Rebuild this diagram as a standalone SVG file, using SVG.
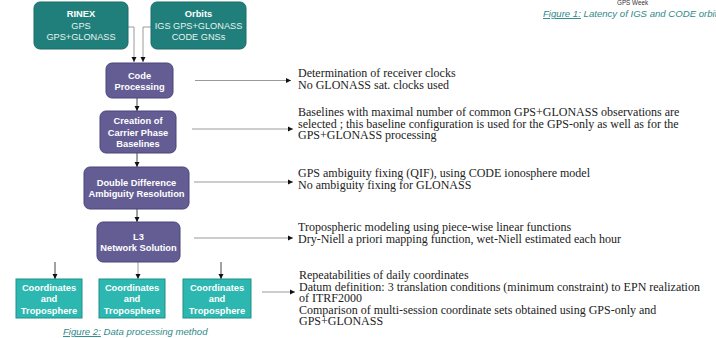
<svg xmlns="http://www.w3.org/2000/svg" width="716" height="338" viewBox="0 0 716 338">
<defs>
<marker id="ah" viewBox="0 0 10 10" refX="10" refY="5" markerWidth="5.5" markerHeight="5.5" orient="auto" markerUnits="userSpaceOnUse">
<path d="M0,0 L10,5 L0,10 z" fill="#111"/>
</marker>
<style>
.teal{fill:#217f7b;stroke:#1a6d69;stroke-width:1}
.proc{fill:#645d94;stroke:#4b457c;stroke-width:1}
.coord{fill:#2cb8b0;stroke:#1f8f89;stroke-width:1}
.bt{font-family:"Liberation Sans",Arial,sans-serif;font-weight:bold;font-size:9.3px;fill:#fff;text-anchor:middle}
.st{font-family:"Liberation Sans",Arial,sans-serif;font-size:9.2px;fill:#e6f2f1;text-anchor:middle}
.desc{font-family:"Liberation Serif","Times New Roman",serif;font-size:12px;fill:#222}
.cap{font-family:"Liberation Sans",Arial,sans-serif;font-style:italic;font-size:9.6px;fill:#2f8a89}
.ln{fill:none;stroke:#9a9a9a;stroke-width:1}
.lk{fill:none;stroke:#444;stroke-width:1}
</style>
</defs>
<rect width="716" height="338" fill="#fff"/>

<g id="top-right">
<text x="617" y="5" font-family="Liberation Sans,Arial,sans-serif" font-size="6.3" fill="#333">GPS Week</text>
<text x="543" y="17" class="cap" font-size="10"><tspan text-decoration="underline">Figure 1:</tspan> Latency of IGS and CODE orbits</text>
</g>

<g id="connectors">
<polyline class="ln" points="128,27 134,27 134,62" marker-end="url(#ah)"/>
<polyline class="ln" points="151,27 143,27 143,62" marker-end="url(#ah)"/>
<line class="lk" x1="137" y1="98" x2="137" y2="111" marker-end="url(#ah)"/>
<line class="lk" x1="137" y1="153" x2="137" y2="167" marker-end="url(#ah)"/>
<line class="lk" x1="137" y1="209" x2="137" y2="222" marker-end="url(#ah)"/>
<line class="ln" x1="138" y1="262" x2="138" y2="279" marker-end="url(#ah)"/>
<line class="lk" x1="55" y1="262" x2="55" y2="279" marker-end="url(#ah)"/>
<line class="lk" x1="221" y1="262" x2="221" y2="279" marker-end="url(#ah)"/>
<line class="ln" x1="195" y1="80.5" x2="291" y2="80.5" marker-end="url(#ah)"/>
<line class="ln" x1="192" y1="129" x2="293" y2="129" marker-end="url(#ah)"/>
<line class="ln" x1="194" y1="182" x2="293" y2="182" marker-end="url(#ah)"/>
<line class="ln" x1="194" y1="238" x2="293" y2="238" marker-end="url(#ah)"/>
<line class="ln" x1="262" y1="292" x2="295" y2="292" marker-end="url(#ah)"/>
</g>

<g id="rinex">
<rect class="teal" x="34" y="2" width="94" height="47" rx="6"/>
<text class="bt" x="81" y="17" font-size="10.5">RINEX</text>
<text class="st" x="81" y="29">GPS</text>
<text class="st" x="81" y="40">GPS+GLONASS</text>
</g>
<g id="orbits">
<rect class="teal" x="151" y="2" width="95" height="47" rx="6"/>
<text class="bt" x="198.5" y="17" font-size="10.5">Orbits</text>
<text class="st" x="198.5" y="29">IGS GPS+GLONASS</text>
<text class="st" x="198.5" y="40">CODE GNSs</text>
</g>

<g id="code-processing">
<rect class="proc" x="106" y="63" width="67" height="35" rx="6"/>
<text class="bt" x="139.5" y="78.5">Code</text>
<text class="bt" x="139.5" y="90">Processing</text>
</g>
<g id="creation">
<rect class="proc" x="100" y="111" width="76" height="42" rx="6"/>
<text class="bt" x="138" y="124">Creation of</text>
<text class="bt" x="138" y="135.5">Carrier Phase</text>
<text class="bt" x="138" y="147">Baselines</text>
</g>
<g id="double-difference">
<rect class="proc" x="84" y="167" width="105" height="42" rx="6"/>
<text class="bt" x="136.5" y="185.5">Double Difference</text>
<text class="bt" x="136.5" y="197">Ambiguity Resolution</text>
</g>
<g id="l3">
<rect class="proc" x="97" y="222" width="83" height="40" rx="6"/>
<text class="bt" x="138.5" y="239.5">L3</text>
<text class="bt" x="138.5" y="251">Network Solution</text>
</g>

<g id="coord1">
<rect class="coord" x="16" y="279" width="66" height="39"/>
<text class="bt" x="49" y="290.5">Coordinates</text>
<text class="bt" x="49" y="302">and</text>
<text class="bt" x="49" y="313.5">Troposphere</text>
</g>
<g id="coord2">
<rect class="coord" x="99" y="279" width="66" height="39"/>
<text class="bt" x="132" y="290.5">Coordinates</text>
<text class="bt" x="132" y="302">and</text>
<text class="bt" x="132" y="313.5">Troposphere</text>
</g>
<g id="coord3">
<rect class="coord" x="183" y="279" width="68" height="39"/>
<text class="bt" x="217" y="290.5">Coordinates</text>
<text class="bt" x="217" y="302">and</text>
<text class="bt" x="217" y="313.5">Troposphere</text>
</g>

<g id="desc-code">
<text class="desc" x="298" y="77">Determination of receiver clocks</text>
<text class="desc" x="298" y="89">No GLONASS sat. clocks used</text>
</g>
<g id="desc-baselines">
<text class="desc" x="298" y="116">Baselines with maximal number of common GPS+GLONASS observations are</text>
<text class="desc" x="298" y="127.5">selected ; this baseline configuration is used for the GPS-only as well as for the</text>
<text class="desc" x="298" y="139">GPS+GLONASS processing</text>
</g>
<g id="desc-dd">
<text class="desc" x="298" y="177">GPS ambiguity fixing (QIF), using CODE ionosphere model</text>
<text class="desc" x="298" y="188.5">No ambiguity fixing for GLONASS</text>
</g>
<g id="desc-l3">
<text class="desc" x="298" y="231">Tropospheric modeling using piece-wise linear functions</text>
<text class="desc" x="298" y="242.5">Dry-Niell a priori mapping function, wet-Niell estimated each hour</text>
</g>
<g id="desc-coord">
<text class="desc" x="299" y="279">Repeatabilities of daily coordinates</text>
<text class="desc" x="299" y="290.5">Datum definition: 3 translation conditions (minimum constraint) to EPN realization</text>
<text class="desc" x="299" y="302">of ITRF2000</text>
<text class="desc" x="299" y="313.5">Comparison of multi-session coordinate sets obtained using GPS-only and</text>
<text class="desc" x="299" y="325">GPS+GLONASS</text>
</g>

<g id="caption">
<text x="63" y="335" class="cap"><tspan text-decoration="underline">Figure 2:</tspan> Data processing method</text>
</g>
</svg>
